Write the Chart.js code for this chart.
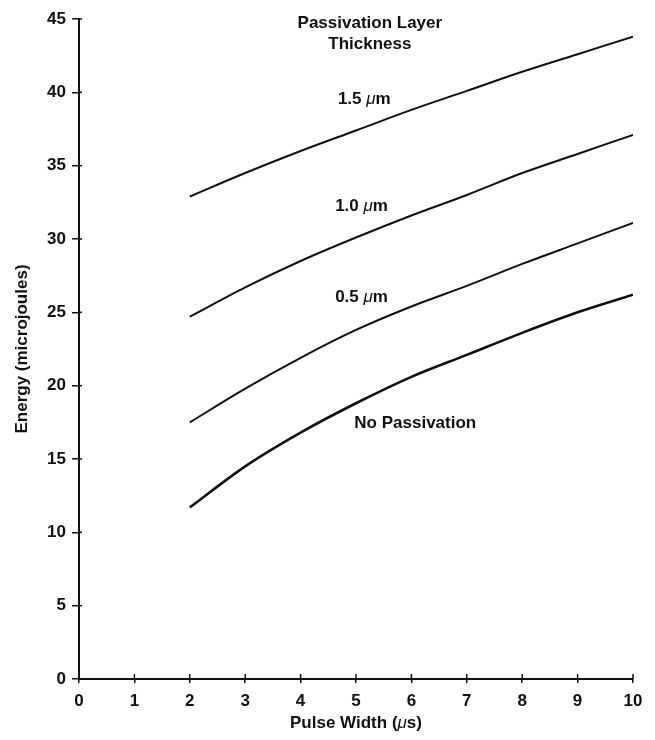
<!DOCTYPE html>
<html>
<head>
<meta charset="utf-8">
<script src="https://cdn.jsdelivr.net/npm/chart.js@4.4.0/dist/chart.umd.min.js"></script>
<style>
  body { margin: 0; background: #fff; }
  canvas { display: block; }
</style>
</head>
<body>
<canvas id="energyChart" width="655" height="740"></canvas>
<script>
// Pulse width (us) and energy (microjoules)
const pulseWidth = [2, 3, 4, 5, 6, 7, 8, 9, 10];
const energy15 = [32.9, 34.5, 36.0, 37.4, 38.8, 40.1, 41.4, 42.6, 43.8];
const energy10 = [24.7, 26.7, 28.5, 30.1, 31.6, 33.0, 34.5, 35.8, 37.1];
const energy05 = [17.5, 19.8, 21.9, 23.8, 25.4, 26.8, 28.3, 29.7, 31.1];
const energyNone = [11.7, 14.5, 16.8, 18.8, 20.6, 22.1, 23.6, 25.0, 26.2];

// curve labels, anchored in data coordinates
const labelText = ['Passivation Layer', 'Thickness', '1.5 \u03bcm', '1.0 \u03bcm', '0.5 \u03bcm', 'No Passivation'];
const labelX = [5.25, 5.25, 5.15, 5.1, 5.1, 6.07];
const labelY = [44.7, 43.3, 39.5, 32.2, 26.0, 17.45];

const xTitle = 'Pulse Width (\u03bcs)';
const FONT = '"Liberation Sans", Arial, sans-serif';

function toPoints(ys) {
    return pulseWidth.map((x, i) => ({ x: x, y: ys[i] }));
}

function curve(label, ys, width) {
    return {
        label: label,
        data: toPoints(ys),
        borderColor: '#111',
        borderWidth: width,
        pointRadius: 0,
        cubicInterpolationMode: 'monotone',
        fill: false
    };
}

// draws text centred at (cx, cy) with any mu in italic
function mixedText(ctx, txt, cx, cy, size) {
    const bold = 'bold ' + size + 'px ' + FONT;
    const ital = 'italic ' + size + 'px ' + FONT;
    const pieces = txt.split(/(\u03bc)/).filter(p => p.length);
    let total = 0;
    const widths = pieces.map(p => {
        ctx.font = p === '\u03bc' ? ital : bold;
        const w = ctx.measureText(p).width;
        total += w;
        return w;
    });
    let left = cx - total / 2;
    ctx.textAlign = 'left';
    pieces.forEach((p, i) => {
        ctx.font = p === '\u03bc' ? ital : bold;
        ctx.fillText(p, left, cy);
        left += widths[i];
    });
}

// short tick stubs that poke inside the plot, like the original
const innerTicks = {
    id: 'innerTicks',
    afterDraw(chart) {
        const ctx = chart.ctx;
        const xs = chart.scales.x, ys = chart.scales.y;
        ctx.save();
        ctx.strokeStyle = '#111';
        ctx.lineWidth = 1.5;
        xs.ticks.forEach(t => {
            const px = xs.getPixelForValue(t.value);
            ctx.beginPath();
            ctx.moveTo(px, ys.bottom);
            ctx.lineTo(px, ys.bottom - 5);
            ctx.stroke();
        });
        ys.ticks.forEach(t => {
            const py = ys.getPixelForValue(t.value);
            ctx.beginPath();
            ctx.moveTo(xs.left, py);
            ctx.lineTo(xs.left + 3, py);
            ctx.stroke();
        });
        ctx.restore();
    }
};

const curveLabels = {
    id: 'curveLabels',
    afterDatasetsDraw(chart) {
        const ctx = chart.ctx;
        const xs = chart.scales.x, ys = chart.scales.y;
        ctx.save();
        ctx.fillStyle = '#111';
        ctx.textBaseline = 'middle';
        labelText.forEach((txt, i) => {
            mixedText(ctx, txt, xs.getPixelForValue(labelX[i]), ys.getPixelForValue(labelY[i]), 17);
        });
        // x axis title, with italic mu
        mixedText(ctx, xTitle, (xs.left + xs.right) / 2, ys.bottom + 44, 17);
        ctx.restore();
    }
};

const ctx = document.getElementById('energyChart').getContext('2d');
new Chart(ctx, {
    type: 'line',
    data: {
        datasets: [
            curve('1.5 \u03bcm', energy15, 2),
            curve('1.0 \u03bcm', energy10, 2),
            curve('0.5 \u03bcm', energy05, 2),
            curve('No Passivation', energyNone, 2.6)
        ]
    },
    options: {
        responsive: false,
        animation: false,
        layout: { padding: { top: 19, right: 22, left: 0, bottom: 0 } },
        plugins: {
            legend: { display: false },
            tooltip: { enabled: false }
        },
        scales: {
            x: {
                type: 'linear',
                min: 0,
                max: 10,
                afterFit(scale) { scale.height = 61; },
                border: { color: '#111', width: 2 },
                grid: { drawOnChartArea: false, color: '#111', lineWidth: 1.5, tickLength: 4 },
                ticks: {
                    stepSize: 1,
                    color: '#111',
                    padding: 8,
                    font: { family: FONT, size: 17, weight: 'bold' }
                }
            },
            y: {
                type: 'linear',
                min: 0,
                max: 45,
                afterFit(scale) { scale.width = 79; },
                border: { color: '#111', width: 2 },
                grid: { drawOnChartArea: false, color: '#111', lineWidth: 1.5, tickLength: 7 },
                ticks: {
                    stepSize: 5,
                    color: '#111',
                    padding: 6,
                    font: { family: FONT, size: 17, weight: 'bold' }
                },
                title: {
                    display: true,
                    text: 'Energy (microjoules)',
                    color: '#111',
                    padding: { top: 12, bottom: 0 },
                    font: { family: FONT, size: 17, weight: 'bold' }
                }
            }
        }
    },
    plugins: [innerTicks, curveLabels]
});
</script>
</body>
</html>
